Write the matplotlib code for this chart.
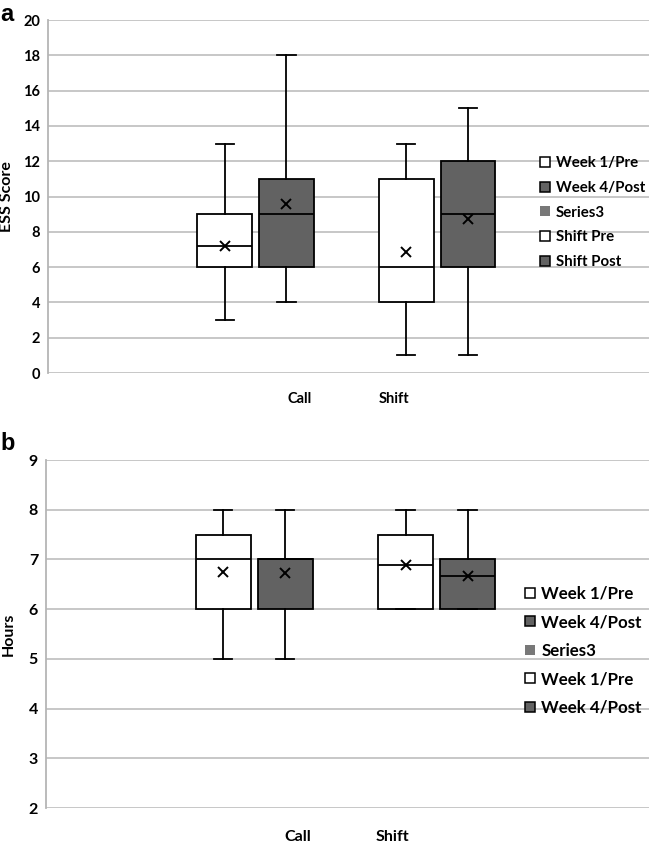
import matplotlib
matplotlib.use("Agg")
from matplotlib import pyplot as plt
from matplotlib.lines import Line2D

plt.rcParams['font.family'] = ['Lato', 'DejaVu Sans']

categories = ['Call', 'Shift']

# rows: Week 1/Pre, Week 4/Post ; columns: Call, Shift
ess_min = [[3, 1], [4, 1]]
ess_q1 = [[6, 4], [6, 6]]
ess_med = [[7.2, 6], [9, 9]]
ess_q3 = [[9, 11], [11, 12]]
ess_max = [[13, 13], [18, 15]]
ess_mean = [[7.2, 6.85], [9.6, 8.75]]
ess_legend = ['Week 1/Pre', 'Week 4/Post', 'Series3', 'Shift Pre', 'Shift Post']

hrs_min = [[5, 6], [5, 6]]
hrs_q1 = [[6, 6], [6, 6]]
hrs_med = [[7, 6.88], [7, 6.67]]
hrs_q3 = [[7.5, 7.5], [7, 7]]
hrs_max = [[8, 8], [8, 8]]
hrs_mean = [[6.75, 6.88], [6.72, 6.66]]
hrs_legend = ['Week 1/Pre', 'Week 4/Post', 'Series3', 'Week 1/Pre', 'Week 4/Post']

fills = ['white', '#626262']
offsets = [-0.17, 0.17]
box_w = 0.30
lw = 1.3


def draw_panel(ax, mins, q1s, meds, q3s, maxs, means, fs, xpad):
    for s in range(2):
        stats = []
        for i in range(len(categories)):
            stats.append(dict(whislo=mins[s][i], q1=q1s[s][i], med=meds[s][i],
                              q3=q3s[s][i], whishi=maxs[s][i], mean=means[s][i],
                              fliers=[]))
        pos = [i + offsets[s] for i in range(len(categories))]
        ax.bxp(stats, positions=pos, widths=box_w, capwidths=0.10,
               patch_artist=True, showmeans=True, showfliers=False,
               boxprops=dict(facecolor=fills[s], edgecolor='black', linewidth=lw),
               medianprops=dict(color='black', linewidth=lw),
               whiskerprops=dict(color='black', linewidth=lw),
               capprops=dict(color='black', linewidth=lw),
               meanprops=dict(marker='x', markeredgecolor='black',
                              markersize=7, markeredgewidth=1.4))
    ax.set_xlim(-1.14, 2.165)
    ax.set_xticks([0.24, 0.76])
    ax.set_xticklabels(categories)
    ax.grid(axis='y', color='#c3c3c3', linewidth=1.3)
    ax.set_axisbelow(True)
    for sp in ['top', 'right', 'bottom']:
        ax.spines[sp].set_visible(False)
    ax.spines['left'].set_color('#b5b5b5')
    ax.spines['left'].set_linewidth(1.3)
    ax.tick_params(axis='both', length=0, labelsize=fs)
    ax.tick_params(axis='y', pad=6)
    ax.tick_params(axis='x', pad=xpad)
    for t in ax.get_xticklabels() + ax.get_yticklabels():
        t.set_fontweight('bold')


def legend_handles(ms):
    return [
        Line2D([], [], marker='s', linestyle='none', markersize=ms - 0.5,
               markerfacecolor='white', markeredgecolor='black', markeredgewidth=1.1),
        Line2D([], [], marker='s', linestyle='none', markersize=ms,
               markerfacecolor='#626262', markeredgecolor='black', markeredgewidth=1.1),
        Line2D([], [], marker='s', linestyle='none', markersize=ms - 0.5,
               markerfacecolor='#787878', markeredgecolor='#787878', markeredgewidth=0),
        Line2D([], [], marker='s', linestyle='none', markersize=ms - 0.5,
               markerfacecolor='white', markeredgecolor='black', markeredgewidth=1.1),
        Line2D([], [], marker='s', linestyle='none', markersize=ms,
               markerfacecolor='#626262', markeredgecolor='black', markeredgewidth=1.1),
    ]


fig = plt.figure(figsize=(6.49, 8.43), dpi=100)

ax1 = fig.add_axes([0.0746, 0.5575, 0.9254, 0.4187])
draw_panel(ax1, ess_min, ess_q1, ess_med, ess_q3, ess_max, ess_mean, 10.5, 14)
ax1.set_ylim(0, 20)
ax1.set_yticks(range(0, 21, 2))
ax1.set_ylabel('ESS Score', fontsize=11.5, fontweight='bold')
ax1.yaxis.set_label_coords(-0.057, 0.5)
fig.legend(legend_handles(7), ess_legend, loc='upper left',
           bbox_to_anchor=(0.832, 0.815), frameon=False, borderpad=0,
           borderaxespad=0, handlelength=0.7, handletextpad=0.35,
           labelspacing=0.72, prop=dict(size=10.8, weight='bold'))

ax2 = fig.add_axes([0.0715, 0.0415, 0.9285, 0.4128])
draw_panel(ax2, hrs_min, hrs_q1, hrs_med, hrs_q3, hrs_max, hrs_mean, 11.5, 16)
ax2.set_ylim(2, 9)
ax2.set_yticks(range(2, 10))
ax2.set_ylabel('Hours', fontsize=11.5, fontweight='bold')
ax2.yaxis.set_label_coords(-0.051, 0.5)
fig.legend(legend_handles(7.5), hrs_legend, loc='upper left',
           bbox_to_anchor=(0.808, 0.3055), frameon=False, borderpad=0,
           borderaxespad=0, handlelength=0.7, handletextpad=0.3,
           labelspacing=0.74, prop=dict(size=12.2, weight='bold'))

fig.text(0.0, 0.997, 'a', fontsize=17, fontweight='bold', va='top', ha='left',
         family='Liberation Sans')
fig.text(0.0, 0.487, 'b', fontsize=17, fontweight='bold', va='top', ha='left',
         family='Liberation Sans')

fig.savefig('out.png', dpi=100)
